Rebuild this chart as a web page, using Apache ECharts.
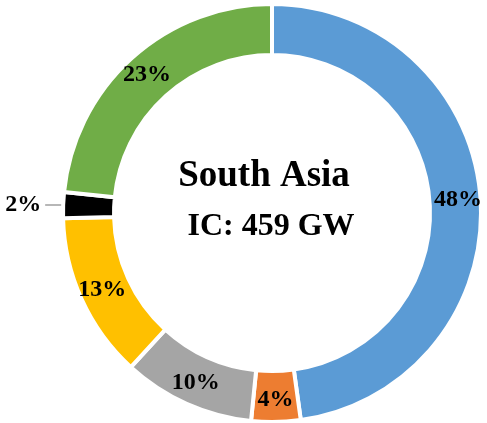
<!DOCTYPE html>
<html><head><meta charset="utf-8">
<script src="https://cdn.jsdelivr.net/npm/echarts@6/dist/echarts.min.js"></script>
<style>html,body{margin:0;padding:0;background:#fff}#c{width:487px;height:423px}</style>
</head><body><div id="c"></div>
<script>
var categories = ['Hydro/Other A', 'Orange', 'Gray', 'Yellow', 'Black', 'Green'];
var values = [47.8, 3.8, 10.2, 12.8, 2.0, 23.4];
var colors = ['#5B9BD5', '#ED7D31', '#A5A5A5', '#FFC000', '#000000', '#70AD47'];
var titleText = 'South Asia';
var subText = 'IC: 459 GW';

var chart = echarts.init(document.getElementById('c'));
var data = values.map(function (v, i) {
  var d = { name: categories[i], value: v, itemStyle: { color: colors[i] } };
  if (i === 4) {
    d.label = { position: 'outside', color: '#000', distanceToLabelLine: 4 };
    d.labelLine = { show: true, length: 6, length2: 12, lineStyle: { color: '#A0A0A0', width: 1.5 } };
  }
  return d;
});
chart.setOption({
  animation: false,
  graphic: [
    { type: 'text', x: 264, y: 176, style: { text: titleText, font: 'bold 37px "Liberation Serif", "Times New Roman", serif', fill: '#000', textAlign: 'center', textVerticalAlign: 'middle' } },
    { type: 'text', x: 271, y: 227, style: { text: subText, font: 'bold 32px "Liberation Serif", "Times New Roman", serif', fill: '#000', textAlign: 'center', textVerticalAlign: 'middle' } }
  ],
  series: [{
    type: 'pie',
    center: [272, 213],
    radius: [158, 209],
    startAngle: 90,
    clockwise: true,
    avoidLabelOverlap: false,
    itemStyle: { borderColor: '#fff', borderWidth: 4 },
    label: {
      show: true,
      position: 'inside',
      formatter: function (p) { return Math.round(p.value) + '%'; },
      fontFamily: '"Liberation Serif", "Times New Roman", serif',
      fontWeight: 'bold',
      fontSize: 24,
      color: '#000'
    },
    labelLine: { show: false },
    emphasis: { disabled: true },
    data: data
  }]
});
</script></body></html>
